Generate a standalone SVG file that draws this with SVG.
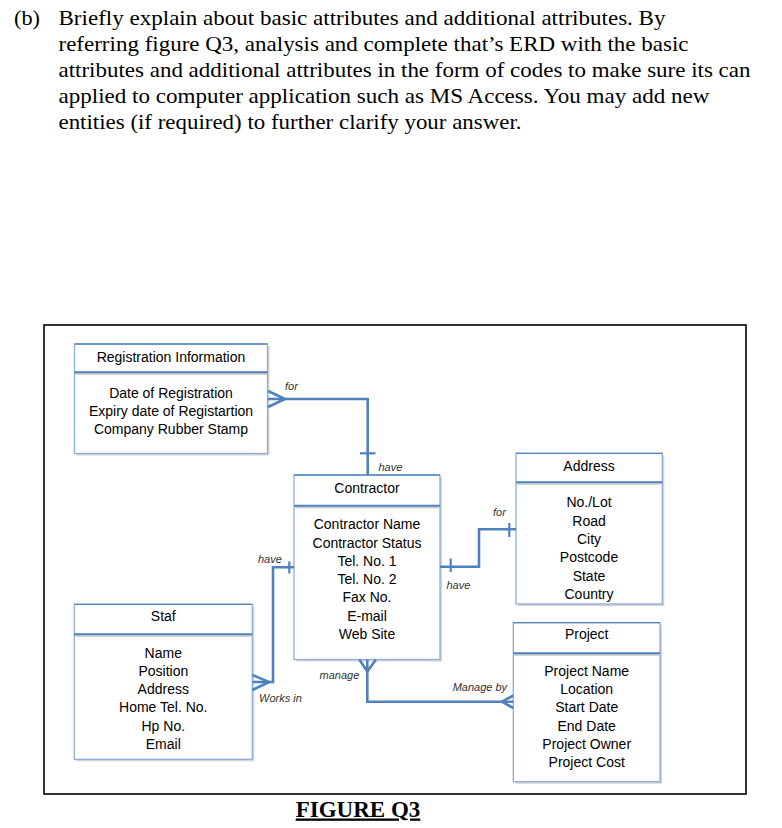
<svg xmlns="http://www.w3.org/2000/svg" width="782" height="828" viewBox="0 0 782 828">
<style>
.q{font-family:"Liberation Serif","Times New Roman",serif;font-size:22px;fill:#000}
.t{font-family:"Liberation Sans",Arial,sans-serif;font-size:14px;fill:#000;text-anchor:middle}
.l{font-family:"Liberation Sans",Arial,sans-serif;font-size:11px;font-style:italic;fill:#333}
.box{fill:#fff;stroke:#8FAEDA;stroke-width:1.3}
.sh{fill:#d4d4d4}
.top{stroke:#5A86C0;stroke-width:1.3}
.div{stroke:#4F81BD;stroke-width:2}
.divs{stroke:#c8c8c8;stroke-width:1.5}
.c{fill:none;stroke:#4F81BD;stroke-width:2.6;stroke-linejoin:miter}
.tk{stroke:#4F81BD;stroke-width:2.2}
</style>
<rect width="782" height="828" fill="#fff"/>
<g id="question">
<text class="q" x="14" y="25" textLength="26" lengthAdjust="spacingAndGlyphs">(b)</text>
<text class="q" x="58.5" y="25" textLength="607" lengthAdjust="spacingAndGlyphs">Briefly explain about basic attributes and additional attributes. By</text>
<text class="q" x="58.5" y="51" textLength="630" lengthAdjust="spacingAndGlyphs">referring figure Q3, analysis and complete that’s ERD with the basic</text>
<text class="q" x="58.5" y="77" textLength="692" lengthAdjust="spacingAndGlyphs">attributes and additional attributes in the form of codes to make sure its can</text>
<text class="q" x="58.5" y="103" textLength="651" lengthAdjust="spacingAndGlyphs">applied to computer application such as MS Access. You may add new</text>
<text class="q" x="58.5" y="129" textLength="463" lengthAdjust="spacingAndGlyphs">entities (if required) to further clarify your answer.</text>
</g>
<rect id="frame" x="44" y="325" width="702" height="469" fill="none" stroke="#000" stroke-width="1.6"/>
<g id="registration">
<rect class="sh" x="76.5" y="346" width="193" height="109.5"/>
<rect class="box" x="74.5" y="344" width="193" height="109.5"/>
<line class="top" x1="74.5" y1="344" x2="267.5" y2="344"/>
<line class="divs" x1="75" y1="374" x2="267" y2="374"/>
<line class="div" x1="74.5" y1="372.3" x2="267.5" y2="372.3"/>
<text class="t" x="171" y="361.5">Registration Information</text>
<text class="t" x="171" y="397.5">Date of Registration</text>
<text class="t" x="171" y="416">Expiry date of Registartion</text>
<text class="t" x="171" y="434.3">Company Rubber Stamp</text>
</g>
<g id="contractor">
<rect class="sh" x="296" y="477" width="146" height="184.5"/>
<rect class="box" x="294" y="475" width="146" height="184.5"/>
<line class="top" x1="294" y1="475" x2="440" y2="475"/>
<line class="divs" x1="294.5" y1="507.5" x2="439.5" y2="507.5"/>
<line class="div" x1="294" y1="505.7" x2="440" y2="505.7"/>
<text class="t" x="367" y="493.3">Contractor</text>
<text class="t" x="367" y="529.3">Contractor Name</text>
<text class="t" x="367" y="547.7">Contractor Status</text>
<text class="t" x="367" y="566">Tel. No. 1</text>
<text class="t" x="367" y="584.3">Tel. No. 2</text>
<text class="t" x="367" y="602.3">Fax No.</text>
<text class="t" x="367" y="620.6">E-mail</text>
<text class="t" x="367" y="639">Web Site</text>
</g>
<g id="address">
<rect class="sh" x="518" y="455.3" width="146.3" height="150.7"/>
<rect class="box" x="516" y="453.3" width="146.3" height="150.7"/>
<line class="top" x1="516" y1="453.3" x2="662.3" y2="453.3"/>
<line class="divs" x1="516.5" y1="484" x2="661.8" y2="484"/>
<line class="div" x1="516" y1="482.3" x2="662.3" y2="482.3"/>
<text class="t" x="589" y="470.7">Address</text>
<text class="t" x="589" y="507.3">No./Lot</text>
<text class="t" x="589" y="525.7">Road</text>
<text class="t" x="589" y="544">City</text>
<text class="t" x="589" y="562.3">Postcode</text>
<text class="t" x="589" y="580.7">State</text>
<text class="t" x="589" y="599">Country</text>
</g>
<g id="staf">
<rect class="sh" x="76.3" y="606.3" width="178" height="155"/>
<rect class="box" x="74.3" y="604.3" width="178" height="155"/>
<line class="top" x1="74.3" y1="604.3" x2="252.3" y2="604.3"/>
<line class="divs" x1="74.8" y1="636" x2="251.8" y2="636"/>
<line class="div" x1="74.3" y1="634.3" x2="252.3" y2="634.3"/>
<text class="t" x="163.3" y="621">Staf</text>
<text class="t" x="163.3" y="657.7">Name</text>
<text class="t" x="163.3" y="676">Position</text>
<text class="t" x="163.3" y="694.3">Address</text>
<text class="t" x="163.3" y="712.3">Home Tel. No.</text>
<text class="t" x="163.3" y="731">Hp No.</text>
<text class="t" x="163.3" y="749.3">Email</text>
</g>
<g id="project">
<rect class="sh" x="515.3" y="624.7" width="146.7" height="159"/>
<rect class="box" x="513.3" y="622.7" width="146.7" height="159"/>
<line class="top" x1="513.3" y1="622.7" x2="660" y2="622.7"/>
<line class="divs" x1="513.8" y1="655" x2="659.5" y2="655"/>
<line class="div" x1="513.3" y1="653.3" x2="660" y2="653.3"/>
<text class="t" x="586.7" y="639">Project</text>
<text class="t" x="586.7" y="675.7">Project Name</text>
<text class="t" x="586.7" y="694">Location</text>
<text class="t" x="586.7" y="712.3">Start Date</text>
<text class="t" x="586.7" y="730.7">End Date</text>
<text class="t" x="586.7" y="749">Project Owner</text>
<text class="t" x="586.7" y="767.3">Project Cost</text>
</g>
<g id="connectors">
<polyline class="c" points="268,399 367.7,399 367.7,475"/>
<polyline class="c" points="268,391 285,399 268,407"/>
<line class="tk" x1="360" y1="453.3" x2="375.5" y2="453.3"/>
<polyline class="c" points="440,566.7 479,566.7 479,529.3 516,529.3"/>
<line class="tk" x1="450.7" y1="558.5" x2="450.7" y2="572"/>
<line class="tk" x1="509.3" y1="523" x2="509.3" y2="537"/>
<polyline class="c" points="252.3,682 273,682 273,567.3 294,567.3"/>
<polyline class="c" points="252.3,675 269,682 252.3,690"/>
<line class="tk" x1="289.3" y1="561.5" x2="289.3" y2="573.5"/>
<polyline class="c" points="367.3,659.5 367.3,701.7 513.3,701.7"/>
<polyline class="c" points="359.3,659.5 367.3,671.5 376,659.5"/>
<polyline class="c" points="513.3,695.5 502,701.7 513.3,708"/>
<text class="l" x="285" y="390">for</text>
<text class="l" x="378.5" y="470.5">have</text>
<text class="l" x="493" y="515.5">for</text>
<text class="l" x="446.5" y="589">have</text>
<text class="l" x="258" y="563">have</text>
<text class="l" x="259" y="702">Works in</text>
<text class="l" x="319.5" y="679">manage</text>
<text class="l" x="452.7" y="691.3">Manage by</text>
</g>
<g id="caption">
<text x="358" y="816.5" text-anchor="middle" font-family="'Liberation Serif','Times New Roman',serif" font-size="23" font-weight="bold" text-decoration="underline" fill="#000">FIGURE Q3</text>
</g>
</svg>
